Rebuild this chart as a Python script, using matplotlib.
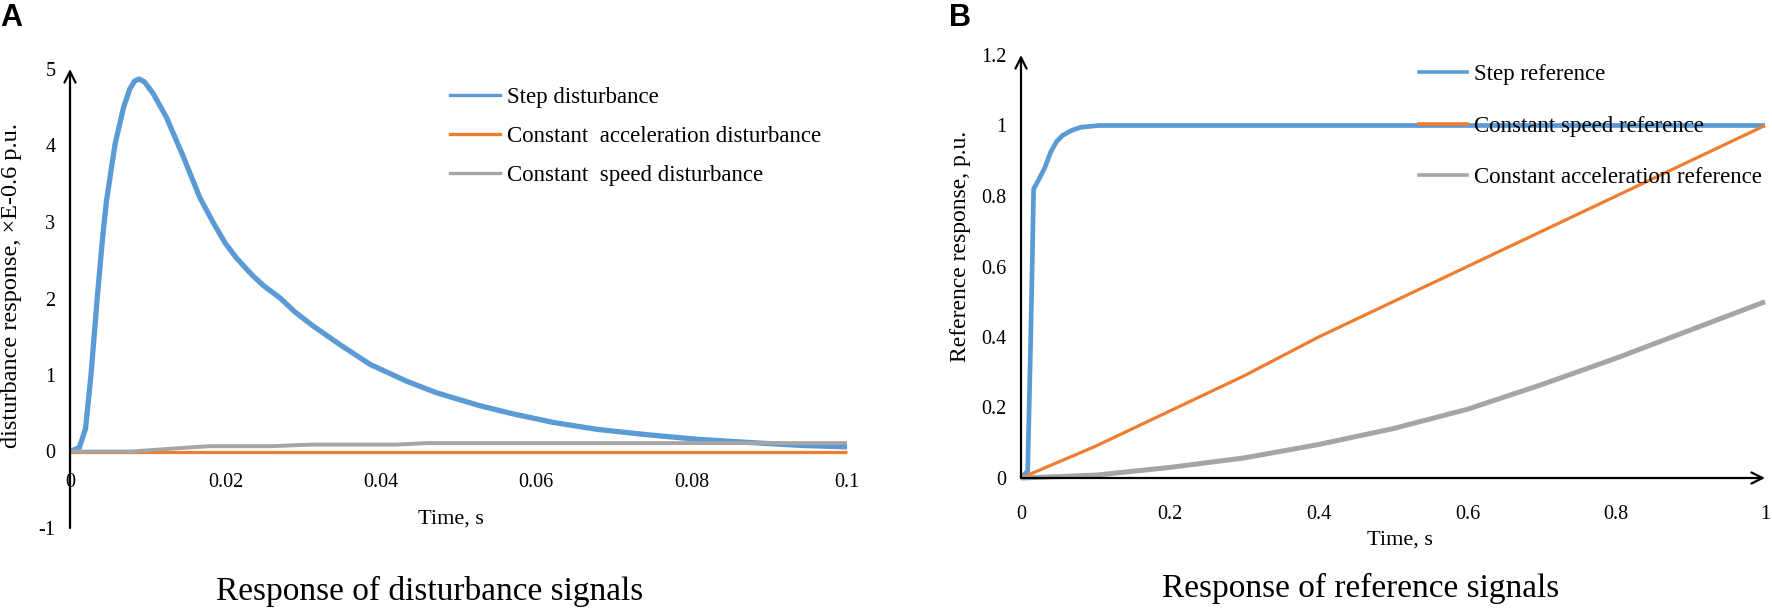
import matplotlib
matplotlib.use('Agg')
import matplotlib.pyplot as plt
from matplotlib.lines import Line2D

plt.rcParams['font.family'] = ['Liberation Serif', 'DejaVu Serif']

# ---------------- Panel A data (disturbance responses, x E-0.6 p.u.) ----------------
t_step_dist = [0, 0.0012, 0.0020, 0.0027, 0.0035, 0.0042, 0.0047, 0.0058, 0.0069, 0.0077,
               0.0083, 0.0089, 0.0096, 0.0107, 0.0124, 0.0146, 0.0167, 0.0185, 0.0200,
               0.0215, 0.0235, 0.0250, 0.0270, 0.0290, 0.0313, 0.0347, 0.0386, 0.0433,
               0.0471, 0.0527, 0.0571, 0.0622, 0.0678, 0.0742, 0.0807, 0.0871, 0.0940,
               0.1000]
v_step_dist = [0, 0.05, 0.30, 1.00, 2.00, 2.80, 3.28, 4.02, 4.50, 4.74,
               4.84, 4.87, 4.83, 4.68, 4.37, 3.85, 3.32, 2.98, 2.72,
               2.52, 2.30, 2.16, 2.01, 1.82, 1.64, 1.40, 1.14, 0.92,
               0.77, 0.60, 0.49, 0.38, 0.29, 0.22, 0.16, 0.12, 0.08,
               0.06]

t_acc_dist = [0, 0.05, 0.1]
v_acc_dist = [0, 0, 0]

t_speed_dist = [0, 0.008, 0.012, 0.018, 0.026, 0.031, 0.042, 0.046, 0.070, 0.1]
v_speed_dist = [0, 0.0, 0.03, 0.07, 0.07, 0.09, 0.09, 0.11, 0.11, 0.11]

xticks_a = [0, 0.02, 0.04, 0.06, 0.08, 0.1]
xticklabels_a = ['0', '0.02', '0.04', '0.06', '0.08', '0.1']
yticks_a = [-1, 0, 1, 2, 3, 4, 5]
yticklabels_a = ['-1', '0', '1', '2', '3', '4', '5']
labels_a = ['Step disturbance', 'Constant  acceleration disturbance', 'Constant  speed disturbance']

# ---------------- Panel B data (reference responses, p.u.) ----------------
t_step_ref = [0, 0.009, 0.013, 0.015, 0.017, 0.0235, 0.032, 0.040, 0.048, 0.056, 0.068,
              0.080, 0.105, 0.2, 0.5, 1.0]
v_step_ref = [0, 0.02, 0.39, 0.60, 0.82, 0.845, 0.88, 0.925, 0.955, 0.972, 0.986,
              0.995, 1.0, 1.0, 1.0, 1.0]

t_speed_ref = [0, 0.1, 0.2, 0.3, 0.4, 0.5, 0.6, 0.7, 0.8, 0.9, 1.0]
v_speed_ref = [0, 0.09, 0.19, 0.29, 0.40, 0.50, 0.60, 0.70, 0.80, 0.90, 1.0]

t_acc_ref = [0, 0.1, 0.2, 0.3, 0.4, 0.5, 0.6, 0.7, 0.8, 0.9, 1.0]
v_acc_ref = [0, 0.008, 0.03, 0.057, 0.095, 0.14, 0.195, 0.265, 0.34, 0.42, 0.50]

xticks_b = [0, 0.2, 0.4, 0.6, 0.8, 1.0]
xticklabels_b = ['0', '0.2', '0.4', '0.6', '0.8', '1']
yticks_b = [0, 0.2, 0.4, 0.6, 0.8, 1.0, 1.2]
yticklabels_b = ['0', '0.2', '0.4', '0.6', '0.8', '1', '1.2']
labels_b = ['Step reference', 'Constant speed reference', 'Constant acceleration reference']

BLUE = '#5B9BD5'
ORANGE = '#ED7D31'
GRAY = '#A5A5A5'

W, H = 1772, 609
fig = plt.figure(figsize=(W / 100, H / 100), dpi=100)


def px_axes(left, right, top, bottom):
    return fig.add_axes([left / W, 1 - bottom / H, (right - left) / W, (bottom - top) / H])


def style_axes(ax, xpad, ypad):
    for s in ax.spines.values():
        s.set_color('none')
    ax.tick_params(axis='both', length=0, labelsize=14.5)
    ax.tick_params(axis='x', pad=xpad)
    ax.tick_params(axis='y', pad=ypad)
    ax.set_facecolor('none')


def arrow(ax, start, end):
    ax.annotate('', xy=end, xytext=start, xycoords='data', textcoords='data',
                annotation_clip=False,
                arrowprops=dict(arrowstyle='->', lw=1.6, color='black',
                                shrinkA=0, shrinkB=0, mutation_scale=20))


# ---------------- Panel A ----------------
axA = px_axes(70, 847, 69, 528)
axA.set_xlim(0, 0.1)
axA.set_ylim(-1, 5)
style_axes(axA, xpad=15.5, ypad=10.5)
axA.spines['bottom'].set_position(('data', 0))
axA.set_xticks(xticks_a)
axA.set_xticklabels(xticklabels_a)
axA.set_yticks(yticks_a)
axA.set_yticklabels(yticklabels_a)

axA.plot(t_step_dist, v_step_dist, color=BLUE, lw=3.8, clip_on=False, solid_capstyle='butt',
         solid_joinstyle='round')
axA.plot(t_acc_dist, v_acc_dist, color=ORANGE, lw=2.3, clip_on=False, solid_capstyle='butt')
axA.plot(t_speed_dist, v_speed_dist, color=GRAY, lw=2.8, clip_on=False, solid_capstyle='butt')
arrow(axA, (0, -1), (0, 5))

handles_a = [Line2D([], [], color=c, lw=2.4) for c in (BLUE, ORANGE, GRAY)]
axA.legend(handles_a, labels_a, loc='upper left', bbox_to_anchor=(450 / W, 1 - 87 / H),
           bbox_transform=fig.transFigure, frameon=False, borderpad=0, borderaxespad=0,
           handlelength=2.18, handletextpad=0.3, labelspacing=0.79, fontsize=16.5)

# ---------------- Panel B ----------------
axB = px_axes(1021, 1765, 55, 478)
axB.set_xlim(0, 1)
axB.set_ylim(0, 1.2)
style_axes(axB, xpad=19.5, ypad=10.5)
axB.set_xticks(xticks_b)
axB.set_xticklabels(xticklabels_b)
axB.set_yticks(yticks_b)
axB.set_yticklabels(yticklabels_b)

axB.plot(t_step_ref, v_step_ref, color=BLUE, lw=3.4, clip_on=False, solid_capstyle='butt',
         solid_joinstyle='round')
axB.plot(t_speed_ref, v_speed_ref, color=ORANGE, lw=2.3, clip_on=False, solid_capstyle='butt')
axB.plot(t_acc_ref, v_acc_ref, color=GRAY, lw=3.6, clip_on=False, solid_capstyle='butt')
arrow(axB, (0, 0), (0, 1.2))
arrow(axB, (0, 0), (1.0, 0))

handles_b = [Line2D([], [], color=c, lw=2.6) for c in (BLUE, ORANGE, GRAY)]
axB.legend(handles_b, labels_b, loc='upper left', bbox_to_anchor=(1419 / W, 1 - 64 / H),
           bbox_transform=fig.transFigure, frameon=False, borderpad=0, borderaxespad=0,
           handlelength=2.1, handletextpad=0.3, labelspacing=1.33, fontsize=16.5)

# ---------------- Text ----------------
fig.text(12 / W, 1 - 285 / H, 'disturbance response, ×E-0.6 p.u.', rotation=90,
         ha='center', va='center', fontsize=17.5)
fig.text(960 / W, 1 - 246 / H, 'Reference response, p.u.', rotation=90,
         ha='center', va='center', fontsize=17)
fig.text(451 / W, 1 - 519 / H, 'Time, s', ha='center', va='center', fontsize=16)
fig.text(1400 / W, 1 - 540 / H, 'Time, s', ha='center', va='center', fontsize=16)
fig.text(430 / W, 1 - 591 / H, 'Response of disturbance signals', ha='center', va='center', fontsize=24)
fig.text(1361 / W, 1 - 588 / H, 'Response of reference signals', ha='center', va='center', fontsize=24)
fig.text(0 / W, 1 - 3 / H, 'A', ha='left', va='top', fontsize=22, fontweight='bold',
         family=['Liberation Sans', 'DejaVu Sans'])
fig.text(949 / W, 1 - 3 / H, 'B', ha='left', va='top', fontsize=22, fontweight='bold',
         family=['Liberation Sans', 'DejaVu Sans'])

fig.savefig('out.png', dpi=100)
